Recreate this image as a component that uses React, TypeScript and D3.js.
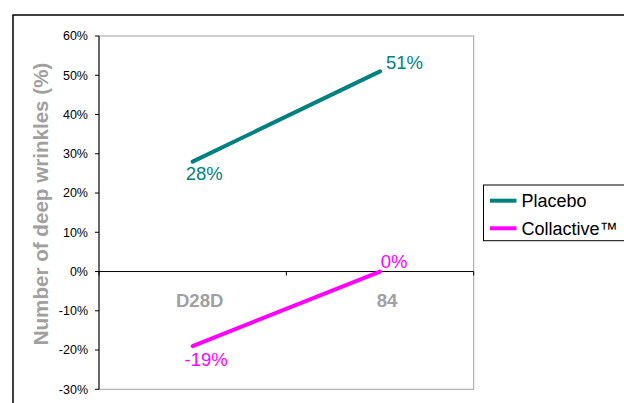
import React from "react";
import * as d3 from "d3";

const categories = ["D28D", "84"];
const placebo = [28, 51];
const collactive = [-19, 0];
const yTicks = [-30, -20, -10, 0, 10, 20, 30, 40, 50, 60];
const seriesNames = ["Placebo", "Collactive™"];
const seriesColors = ["#008080", "#FF00FF"];

export default function App() {
  const W = 624, H = 403;
  const left = 99, right = 473.7, top = 36, bottom = 389.3;
  const font = "Liberation Sans, Arial, sans-serif";
  const x = d3.scaleBand<string>().domain(categories).range([left, right]);
  const y = d3.scaleLinear().domain([-30, 60]).range([bottom, top]);
  const cx = (c: string) => (x(c) as number) + x.bandwidth() / 2;
  const line = d3
    .line<number>()
    .x((_, i) => cx(categories[i]))
    .y((d) => y(d));
  const series = [placebo, collactive];
  const fmt = (v: number) => `${v}%`;
  // label offsets relative to each point: [dx (center), dy (baseline)]
  const labelOffsets = [
    [[11.5, 18.5], [24.5, -2.3]],
    [[13.5, 19.6], [14, -3.5]],
  ];

  return (
    <svg
      width={W}
      height={H}
      style={{ position: "absolute", left: 0, top: 0, background: "#fff" }}
      fontFamily={font}
    >
      <rect x={13} y={15} width={W} height={H} fill="#fff" stroke="#000" strokeWidth={1.5} />
      {/* plot border */}
      <rect x={left} y={top} width={right - left} height={bottom - top} fill="none" stroke="#a0a0a0" strokeWidth={1} />
      {/* y axis */}
      <line x1={left} x2={left} y1={top} y2={bottom} stroke="#000" strokeWidth={1} />
      {yTicks.map((t) => (
        <g key={t}>
          <line x1={left - 4} x2={left} y1={y(t)} y2={y(t)} stroke="#000" />
          <text x={88} y={y(t)} dy="0.35em" textAnchor="end" fontSize={12.5} fill="#000">
            {fmt(t)}
          </text>
        </g>
      ))}
      {/* zero line (x axis) */}
      <line x1={left} x2={right} y1={y(0)} y2={y(0)} stroke="#000" strokeWidth={1} />
      {[...categories.map((c) => x(c) as number), right].map((p, i) => (
        <line key={i} x1={p} x2={p} y1={y(0)} y2={y(0) + 4} stroke="#000" />
      ))}
      {categories.map((c) => (
        <text key={c} x={cx(c) + 7} y={307.3} textAnchor="middle" fontSize={18.6} fontWeight="bold" fill="#a0a0a0">
          {c}
        </text>
      ))}
      {/* y title */}
      <text
        transform={`translate(47.5, 204) rotate(-90)`}
        textAnchor="middle"
        fontSize={20.6}
        fontWeight="bold"
        fill="#a0a0a0"
      >
        Number of deep wrinkles (%)
      </text>
      {/* lines */}
      {series.map((s, si) => (
        <path key={si} d={line(s) as string} fill="none" stroke={seriesColors[si]} strokeWidth={4} strokeLinecap="round" />
      ))}
      {/* data labels */}
      {series.map((s, si) =>
        s.map((v, i) => {
          const px = cx(categories[i]);
          const [dx, dy] = labelOffsets[si][i];
          return (
            <text
              key={`${si}-${i}`}
              x={px + dx}
              y={y(v) + dy}
              textAnchor="middle"
              fontSize={18.5}
              fill={seriesColors[si]}
            >
              {fmt(v)}
            </text>
          );
        })
      )}
      {/* legend */}
      <rect x={483.5} y={185} width={200} height={55.7} fill="#fff" stroke="#000" strokeWidth={1} />
      {seriesNames.map((n, i) => {
        const ly = 200.7 + i * 27.6;
        return (
          <g key={n}>
            <line x1={490} x2={516.5} y1={ly} y2={ly} stroke={seriesColors[i]} strokeWidth={4} />
            <text x={521.5} y={ly + 6.3} fontSize={18} fill="#000">
              {n}
            </text>
          </g>
        );
      })}
    </svg>
  );
}
